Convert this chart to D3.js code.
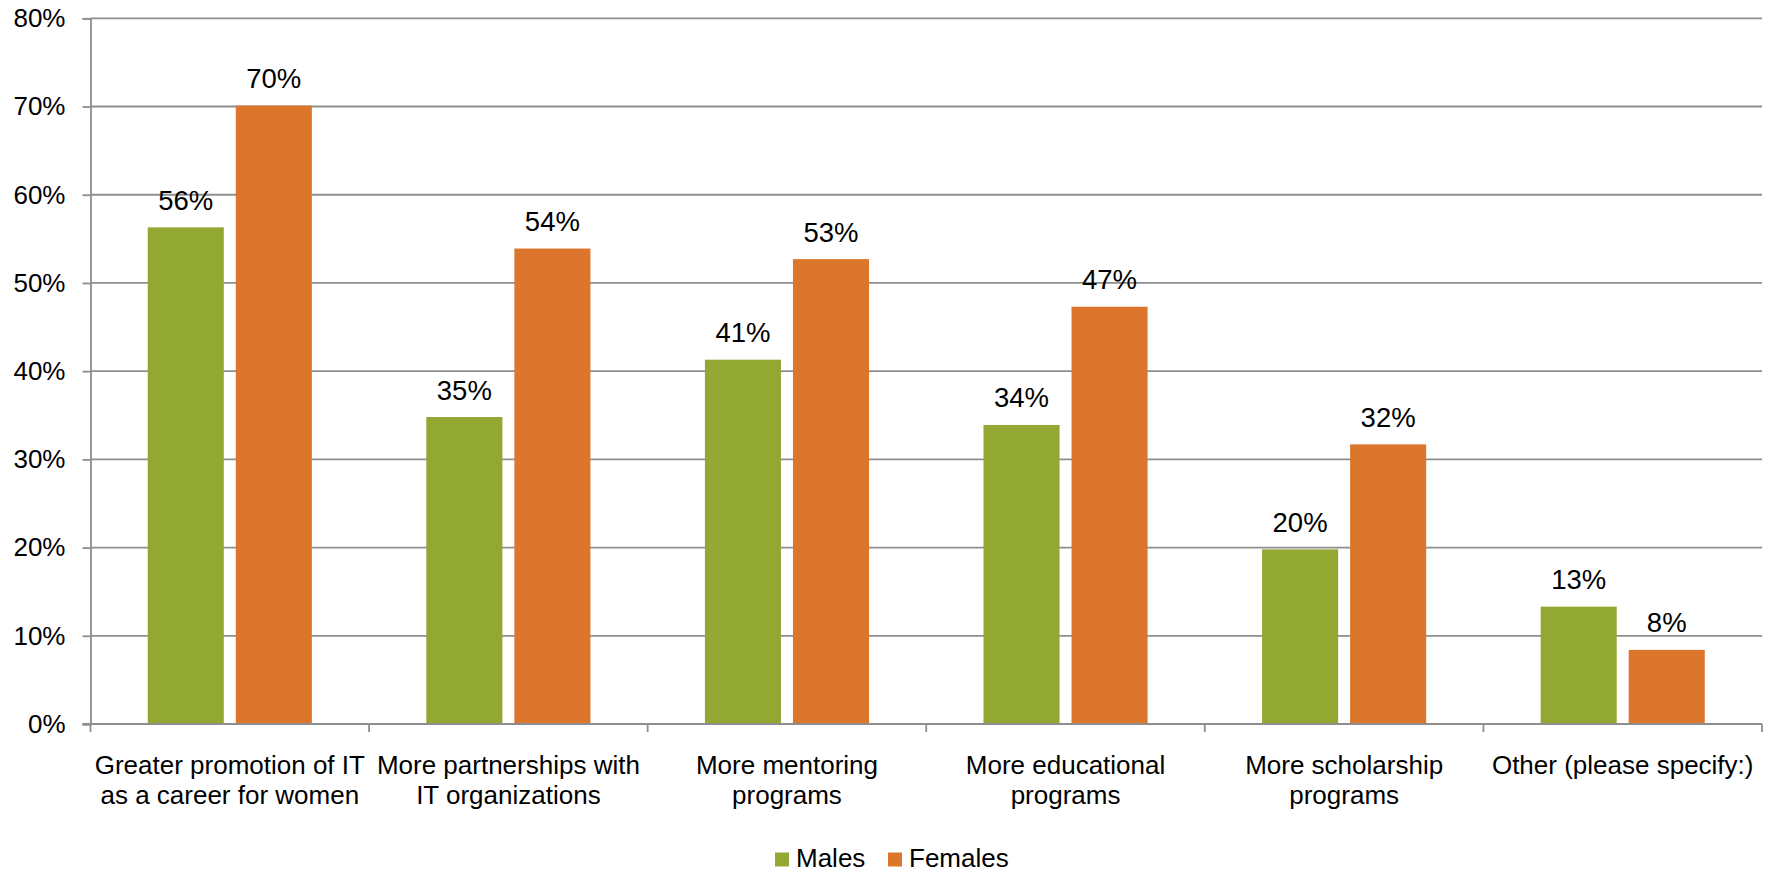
<!DOCTYPE html>
<html>
<head>
<meta charset="utf-8">
<script src="https://cdn.jsdelivr.net/npm/d3@7"></script>
<style>
  body { margin: 0; background: #fff; }
  svg text { font-family: "Liberation Sans", Arial, sans-serif; fill: #000; }
</style>
</head>
<body>
<svg id="chart" width="1773" height="873"></svg>
<script>
// values (percent)
var categories = [
  "Greater promotion of IT\nas a career for women",
  "More partnerships with\nIT organizations",
  "More mentoring\nprograms",
  "More educational\nprograms",
  "More scholarship\nprograms",
  "Other (please specify:)"
];
var series = ["Males", "Females"];
var males = [56.3, 34.8, 41.3, 33.9, 19.8, 13.3];
var females = [70.1, 53.9, 52.7, 47.3, 31.7, 8.4];
var yTicks = [0, 10, 20, 30, 40, 50, 60, 70, 80];
var colors = ["#93a833", "#db762c"];

var svg = d3.select("#chart"),
    margin = {top: 18.3, right: 11, bottom: 149, left: 90.5},
    width = +svg.attr("width") - margin.left - margin.right,
    height = +svg.attr("height") - margin.top - margin.bottom;

var g = svg.append("g")
    .attr("transform", "translate(" + margin.left + "," + margin.top + ")");

var x0 = d3.scaleBand()
    .domain(categories)
    .range([0, width])
    .padding(0);

var x1 = d3.scaleBand()
    .domain(series)
    .range([0, x0.bandwidth()])
    .paddingInner(0.136)
    .paddingOuter(0.65);

var y = d3.scaleLinear()
    .domain([0, 80])
    .range([height, 0]);

var color = d3.scaleOrdinal().domain(series).range(colors);

// gridlines
g.append("g")
    .attr("class", "grid")
  .selectAll("line")
  .data(yTicks)
  .enter().append("line")
    .attr("x1", 0)
    .attr("x2", width)
    .attr("y1", function(d) { return y(d); })
    .attr("y2", function(d) { return y(d); })
    .attr("stroke", "#8e8e8e")
    .attr("stroke-width", 1.8);

// y axis
var yAxis = g.append("g")
    .call(d3.axisLeft(y)
      .tickValues(yTicks)
      .tickSize(8)
      .tickPadding(17)
      .tickFormat(function(d) { return d + "%"; }));
yAxis.select(".domain").attr("stroke", "#8e8e8e").attr("stroke-width", 1.8);
yAxis.selectAll(".tick line").attr("stroke", "#8e8e8e").attr("stroke-width", 1.8);
yAxis.selectAll(".tick text")
    .attr("font-size", 26)
    .style("font-family", "'Liberation Sans', Arial, sans-serif")
    .attr("fill", "#000");

// bars
var rows = categories.map(function(c, i) {
  return {cat: c, values: [{s: "Males", v: males[i]}, {s: "Females", v: females[i]}]};
});

var groups = g.selectAll(".cat")
  .data(rows)
  .enter().append("g")
    .attr("class", "cat")
    .attr("transform", function(d) { return "translate(" + x0(d.cat) + ",0)"; });

groups.selectAll("rect")
  .data(function(d) { return d.values; })
  .enter().append("rect")
    .attr("x", function(d) { return x1(d.s); })
    .attr("y", function(d) { return y(d.v); })
    .attr("width", x1.bandwidth())
    .attr("height", function(d) { return height - y(d.v); })
    .attr("fill", function(d) { return color(d.s); });

groups.selectAll(".lbl")
  .data(function(d) { return d.values; })
  .enter().append("text")
    .attr("class", "lbl")
    .attr("x", function(d) { return x1(d.s) + x1.bandwidth() / 2; })
    .attr("y", function(d) { return y(d.v) - 17.5; })
    .attr("text-anchor", "middle")
    .attr("font-size", 27.5)
    .text(function(d) { return Math.round(d.v) + "%"; });

// x axis line + boundary ticks
var xa = g.append("g").attr("transform", "translate(0," + height + ")");
xa.append("line")
    .attr("x1", -8).attr("x2", width)
    .attr("stroke", "#8e8e8e").attr("stroke-width", 1.8);
xa.selectAll(".bt")
  .data(categories.map(function(c) { return x0(c); }).concat([width]))
  .enter().append("line")
    .attr("class", "bt")
    .attr("x1", function(d) { return d; })
    .attr("x2", function(d) { return d; })
    .attr("y1", 0).attr("y2", 8)
    .attr("stroke", "#8e8e8e").attr("stroke-width", 1.8);

// category labels
var cl = xa.selectAll(".cl")
  .data(categories)
  .enter().append("text")
    .attr("class", "cl")
    .attr("text-anchor", "middle")
    .attr("font-size", 26)
    .attr("transform", function(d) { return "translate(" + (x0(d) + x0.bandwidth() / 2) + ",50)"; });
cl.selectAll("tspan")
  .data(function(d) { return d.split("\n"); })
  .enter().append("tspan")
    .attr("x", 0)
    .attr("dy", function(d, i) { return i ? 30 : 0; })
    .text(function(d) { return d; });

// legend
var legend = svg.append("g").attr("transform", "translate(775,866.5)");
var lx = [0, 113];
series.forEach(function(s, i) {
  legend.append("rect")
    .attr("x", lx[i]).attr("y", -14)
    .attr("width", 14).attr("height", 14)
    .attr("fill", color(s));
  legend.append("text")
    .attr("x", lx[i] + 21).attr("y", 0)
    .attr("font-size", 26)
    .text(s);
});
</script>
</body>
</html>
